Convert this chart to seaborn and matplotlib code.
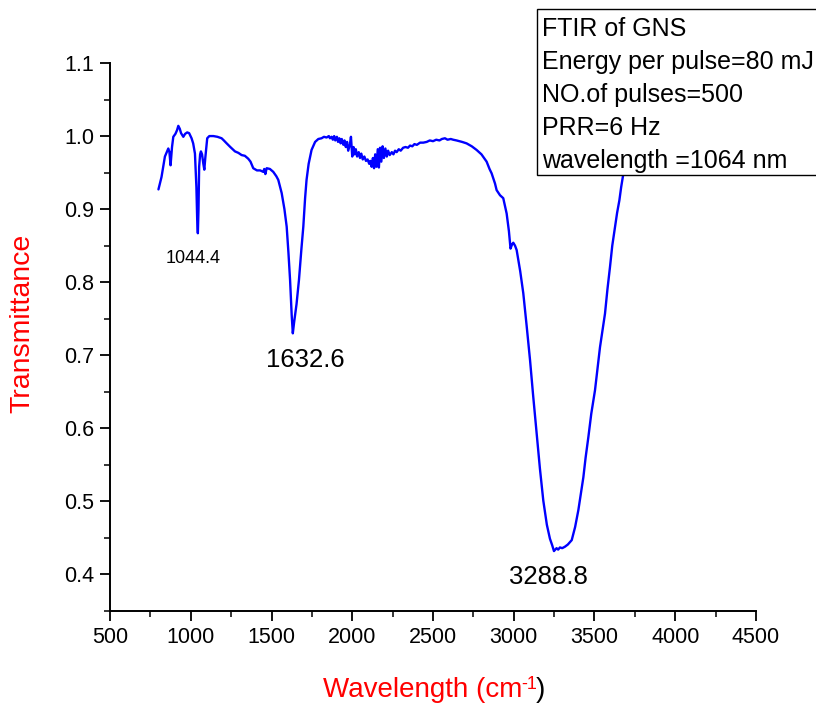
import numpy as np
import pandas as pd
import matplotlib
matplotlib.use("Agg")
import matplotlib.pyplot as plt
from matplotlib.patches import Rectangle
from matplotlib.ticker import MultipleLocator
import seaborn as sns

wavenumber = [800, 819, 840, 861, 868, 875, 884, 892, 905, 915, 923, 932, 940, 954, 965, 978, 990,
              1005, 1015, 1026, 1035, 1040, 1044, 1048, 1052, 1058, 1063, 1070, 1078, 1084, 1090,
              1102, 1115, 1140, 1165, 1191, 1205, 1218, 1245, 1274, 1295, 1315, 1335, 1356, 1370,
              1387, 1410, 1430, 1449, 1455, 1462, 1470, 1490, 1511, 1530, 1542, 1563, 1580, 1594,
              1605, 1615, 1625, 1632, 1640, 1655, 1670, 1685, 1697, 1708, 1717, 1730, 1748, 1770,
              1790, 1810, 1825, 1841, 1855, 1862, 1872, 1880, 1888, 1895, 1905, 1912, 1920, 1928,
              1935, 1945, 1952, 1960, 1968, 1975, 1985, 1992, 2000, 2008, 2015, 2022, 2030, 2040,
              2048, 2056, 2065, 2075, 2085, 2095, 2105, 2112, 2120, 2128, 2135, 2142, 2150, 2158,
              2165, 2172, 2180, 2188, 2196, 2205, 2214, 2222, 2232, 2245, 2255, 2265, 2275, 2288,
              2300, 2315, 2330, 2345, 2358, 2372, 2385, 2400, 2420, 2440, 2461, 2480, 2500, 2520,
              2540, 2555, 2574, 2590, 2610, 2625, 2646, 2680, 2708, 2740, 2770,
              2800, 2832, 2850, 2863, 2884, 2894, 2915, 2935, 2956, 2970, 2980, 2990, 2997, 3008,
              3018, 3040, 3059, 3080, 3101, 3120, 3142, 3162, 3183, 3205, 3224, 3238, 3249, 3265,
              3275, 3286, 3300, 3317, 3335, 3359, 3380, 3400, 3415, 3431, 3445, 3462, 3480, 3503,
              3520, 3534, 3550, 3565, 3580, 3596, 3610, 3627, 3640, 3654, 3665, 3679, 3700, 3730]
transmittance = [0.927, 0.944, 0.972, 0.983, 0.978, 0.960, 0.985, 0.999, 1.003, 1.008, 1.014, 1.010,
                 1.004, 0.999, 1.003, 1.005, 1.004, 0.997, 0.990, 0.976, 0.930, 0.885, 0.867, 0.900,
                 0.958, 0.975, 0.979, 0.975, 0.962, 0.954, 0.970, 0.997, 1.000, 1.000, 0.999, 0.997,
                 0.994, 0.991, 0.985, 0.979, 0.977, 0.974, 0.973, 0.969, 0.965, 0.956, 0.953, 0.953,
                 0.951, 0.955, 0.948, 0.956, 0.955, 0.951, 0.945, 0.940, 0.922, 0.900, 0.876, 0.840,
                 0.803, 0.755, 0.730, 0.745, 0.770, 0.803, 0.845, 0.876, 0.915, 0.940, 0.962, 0.981,
                 0.992,
                 0.996, 0.997, 0.999, 0.998, 1.000, 0.997, 0.999, 0.995, 1.000, 0.994, 0.999, 0.992,
                 0.997, 0.990, 0.996, 0.988, 0.994, 0.985, 0.992, 0.980, 0.988, 0.999, 0.972, 0.985,
                 0.975, 0.982, 0.972, 0.978, 0.970, 0.976, 0.968, 0.972, 0.966, 0.968, 0.962, 0.966,
                 0.958, 0.970, 0.956, 0.975, 0.958, 0.982, 0.957, 0.984, 0.965, 0.986, 0.970, 0.983,
                 0.972, 0.980, 0.974, 0.978, 0.975, 0.980, 0.978, 0.982, 0.980, 0.984, 0.985, 0.984,
                 0.987, 0.986, 0.989, 0.988, 0.991, 0.991, 0.992, 0.994, 0.993, 0.995, 0.994, 0.996,
                 0.997, 0.995, 0.996, 0.995, 0.994, 0.992, 0.990, 0.986, 0.981,
                 0.975, 0.965, 0.955, 0.949, 0.935, 0.926, 0.919, 0.915, 0.894, 0.870, 0.846, 0.852,
                 0.854, 0.850, 0.844, 0.815, 0.785, 0.740, 0.693, 0.645, 0.593, 0.545, 0.501, 0.468,
                 0.449, 0.440, 0.432, 0.436, 0.434, 0.437, 0.436, 0.438, 0.441, 0.447, 0.465, 0.488,
                 0.510, 0.533, 0.560, 0.588, 0.620, 0.652, 0.685, 0.711, 0.735, 0.757, 0.790, 0.821,
                 0.850, 0.876, 0.895, 0.912, 0.930, 0.949, 0.975, 0.995]

peak_labels = ["1044.4", "1632.6", "3288.8"]
peak_x = [1014, 1707, 3212]
peak_y = [0.833, 0.693, 0.396]
peak_sizes = [13, 18.5, 18.5]

info_lines = ["FTIR of GNS", "Energy per pulse=80 mJ", "NO.of pulses=500",
              "PRR=6 Hz", "wavelength =1064 nm"]

x_ticks = [500, 1000, 1500, 2000, 2500, 3000, 3500, 4000, 4500]
y_ticks = [0.4, 0.5, 0.6, 0.7, 0.8, 0.9, 1.0, 1.1]

sns.set_style("ticks")
plt.rcParams["font.family"] = ["Liberation Sans", "DejaVu Sans"]

df = pd.DataFrame({"Wavenumber": wavenumber, "Transmittance": transmittance})

W, H = 816, 704
fig = plt.figure(figsize=(W / 100, H / 100), dpi=100)
ax = fig.add_axes([110 / W, 1 - 611 / H, (756 - 110) / W, (611 - 63) / H])

sns.lineplot(data=df, x="Wavenumber", y="Transmittance", ax=ax, color="#0000ff",
             linewidth=1.7, estimator=None, sort=False)

ax.set_xlim(500, 4500)
ax.set_ylim(0.35, 1.1)
ax.set_xticks(x_ticks)
ax.set_yticks(y_ticks)
ax.set_yticklabels([f"{v:.1f}" for v in y_ticks])
ax.xaxis.set_minor_locator(MultipleLocator(250))
ax.yaxis.set_minor_locator(MultipleLocator(0.05))
ax.tick_params(axis="both", which="major", direction="out", length=7.5, width=1.3,
               labelsize=15.5, colors="black", pad=4)
ax.tick_params(axis="both", which="minor", direction="out", length=4, width=1.3)
for s in ["top", "right"]:
    ax.spines[s].set_visible(False)
for s in ["left", "bottom"]:
    ax.spines[s].set_linewidth(1.4)
    ax.spines[s].set_color("black")

ax.set_xlabel("")
ax.set_ylabel("")
fig.text(22 / W, 1 - 323 / H, "Transmittance", rotation=90, color="red", fontsize=20.5,
         ha="center", va="center")
xl = fig.text(323 / W, 1 - 697 / H, "Wavelength (cm", color="red",
              fontsize=20, ha="left", va="baseline")
sup = ax.annotate("-1", xy=(1, 1), xycoords=xl, xytext=(-0.5, 1), textcoords="offset points",
                  color="red", fontsize=13, ha="left", va="top", annotation_clip=False)
ax.annotate(")", xy=(1, 0), xycoords=(sup, xl), xytext=(-1, 0), textcoords="offset points",
            color="black", fontsize=20, ha="left", va="bottom", annotation_clip=False)

for lab, px, py, fs in zip(peak_labels, peak_x, peak_y, peak_sizes):
    ax.text(px, py, lab, fontsize=fs, ha="center", va="center", color="black")

rect = Rectangle((537 / W, 1 - 175 / H), (840 - 537) / W, (175 - 9) / H,
                 transform=fig.transFigure, facecolor="white", edgecolor="black",
                 linewidth=1.0, zorder=10)
fig.add_artist(rect)
base_y = [36, 69, 102, 135, 168]
for line, by in zip(info_lines, base_y):
    t = fig.text(542 / W, 1 - by / H, line, fontsize=18, ha="left", va="baseline",
                 color="black")
    t.set_zorder(11)

fig.savefig("out.png", dpi=100)
